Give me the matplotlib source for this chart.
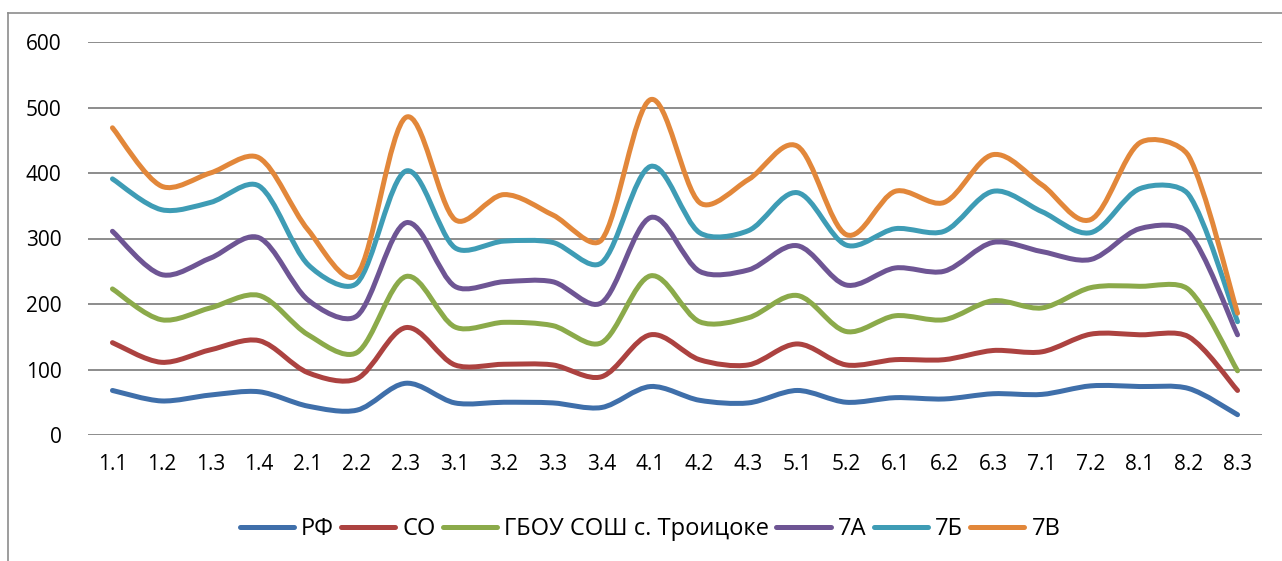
import numpy as np
import matplotlib
matplotlib.use('Agg')
import matplotlib.pyplot as plt
from matplotlib.path import Path
from matplotlib.patches import PathPatch
from matplotlib.lines import Line2D

plt.rcParams['font.family'] = ['Open Sans', 'DejaVu Sans']

cats = ['1.1', '1.2', '1.3', '1.4', '2.1', '2.2', '2.3', '3.1', '3.2', '3.3', '3.4', '4.1',
        '4.2', '4.3', '5.1', '5.2', '6.1', '6.2', '6.3', '7.1', '7.2', '8.1', '8.2', '8.3']

rf    = [68, 52, 61, 66, 44, 38, 79, 49, 50, 49, 42, 74, 53, 49, 68, 50, 57, 55, 63, 62, 75, 74, 71, 31]
so    = [73, 59, 69, 78, 51, 48, 85, 58, 58, 58, 47, 79, 62, 58, 71, 57, 58, 60, 66, 65, 79, 79, 79, 37]
gbou  = [82, 65, 64, 69, 58, 40, 78, 58, 64, 60, 52, 90, 58, 72, 74, 51, 67, 61, 76, 67, 71, 74, 72, 30]
kl_7a = [88, 69, 76, 88, 53, 56, 82, 62, 62, 67, 61, 89, 77, 73, 76, 71, 73, 74, 89, 86, 43, 88, 87, 55]
kl_7b = [80, 99, 85, 79, 54, 50, 79, 59, 62, 60, 61, 78, 59, 60, 81, 61, 60, 61, 78, 61, 41, 61, 58, 20]
kl_7v = [78, 36, 45, 43, 53, 13, 82, 43, 71, 42, 35, 102, 46, 78, 71, 16, 57, 44, 56, 41, 20, 70, 59, 13]

names = ['РФ', 'СО', 'ГБОУ СОШ с. Троицоке', '7А', '7Б', '7В']
colors = ['#3F6FAA', '#AC4240', '#8BAA4A', '#6E5594', '#3E9CB5', '#E2873A']

series = np.array([rf, so, gbou, kl_7a, kl_7b, kl_7v], dtype=float)
stacked = np.cumsum(series, axis=0)   # stacked line chart

XPX = 49.0     # pixels per category
YPX = 0.654    # pixels per unit


def smooth_path(x, y, t=0.3):
    # catmull-rom handles, clipped to a share of the segment length (less overshoot)
    pts = np.column_stack([np.asarray(x) * XPX, np.asarray(y) * YPX])
    n = len(pts)
    fwd, back = [], []
    for i in range(n):
        p0 = pts[max(i - 1, 0)]
        p2 = pts[min(i + 1, n - 1)]
        tan = (p2 - p0) / 6.0
        tl = np.hypot(*tan)
        d = tan / tl
        lf = np.hypot(*(pts[min(i + 1, n - 1)] - pts[i]))
        lb = np.hypot(*(pts[i] - pts[max(i - 1, 0)]))
        fwd.append(pts[i] + d * min(tl, lf * t))
        back.append(pts[i] - d * min(tl, lb * t))
    verts = [pts[0]]
    codes = [Path.MOVETO]
    for i in range(n - 1):
        verts += [fwd[i], back[i + 1], pts[i + 1]]
        codes += [Path.CURVE4] * 3
    verts = np.array(verts) / [XPX, YPX]
    return Path(verts, codes)


fig = plt.figure(figsize=(12.82, 5.61), dpi=100)
ax = fig.add_axes([88/1282, 1 - 435/561, (1262 - 88)/1282, (435 - 42)/561])

x = np.arange(len(cats))
for k in range(len(names)):
    patch = PathPatch(smooth_path(x, stacked[k]), facecolor='none', edgecolor=colors[k],
                      lw=3.6, capstyle='round', joinstyle='round', zorder=3)
    ax.add_patch(patch)

ax.set_xlim(-0.5, len(cats) - 0.5)
ax.set_ylim(0, 600)
ax.set_yticks(range(0, 601, 100))
ax.set_xticks(x)
ax.set_xticklabels(cats)
ax.grid(axis='y', color='#8c8c8c', lw=1.4)
ax.set_axisbelow(True)
for s in ax.spines.values():
    s.set_visible(False)
ax.tick_params(length=0, labelsize=15, colors='black')
ax.tick_params(axis='y', pad=19)
ax.tick_params(axis='x', pad=14)

handles = [Line2D([0], [0], color=c, lw=3.6, solid_capstyle='round') for c in colors]
fig.legend(handles, names, loc='center', bbox_to_anchor=(650/1282, 1 - 529/561), ncol=6,
           frameon=False, fontsize=17, handlelength=2.3, handletextpad=0.3, columnspacing=0.3)

# chart border (top and left visible)
fig.add_artist(Line2D([8/1282, 8/1282], [0, 1 - 13/561], color='#8c8c8c', lw=1.2))
fig.add_artist(Line2D([8/1282, 1], [1 - 13/561, 1 - 13/561], color='#8c8c8c', lw=1.2))

fig.savefig('out.png', dpi=100)
